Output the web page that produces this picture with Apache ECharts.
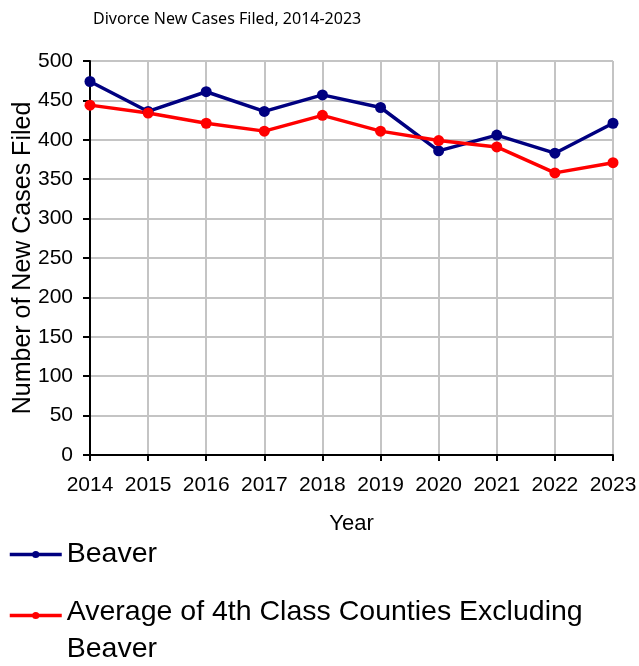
<!DOCTYPE html>
<html lang="en">
<head>
    <meta charset="UTF-8">
    <title>Divorce New Cases Filed</title>
    <script src="https://cdn.jsdelivr.net/npm/echarts@6/dist/echarts.min.js"></script>
    <style>
        html, body { margin: 0; padding: 0; background: #fff; }
    </style>
</head>
<body>
    <div id="main" style="width: 639px;height:666px;"></div>
    <script>
        // data
        var years = ['2014', '2015', '2016', '2017', '2018', '2019', '2020', '2021', '2022', '2023'];
        var beaver = [474, 436, 461, 436, 457, 441, 386, 406, 383, 421];
        var avgFourthClass = [444, 434, 421, 411, 431, 411, 399, 391, 358, 371];
        var seriesNames = ['Beaver', 'Average of 4th Class Counties Excluding Beaver'];

        var legendFont = {
            fontFamily: 'Liberation Sans',
            fontSize: 28.5,
            color: '#000'
        };

        var myChart = echarts.init(document.getElementById('main'));
        myChart.setOption({
            animation: false,
            title: {
                text: 'Divorce New Cases Filed, 2014-2023',
                left: 88,
                top: 6,
                textStyle: { fontFamily: 'Noto Sans', fontSize: 16, fontWeight: 'normal', color: '#000' }
            },
            // two legends so the wrapped second entry keeps its icon on the first line
            legend: [
                {
                    orient: 'vertical',
                    left: 8,
                    top: 540,
                    padding: 0,
                    itemWidth: 52,
                    itemHeight: 9,
                    lineStyle: { width: 3.5 },
                    textStyle: legendFont,
                    data: [seriesNames[0]]
                },
                {
                    orient: 'vertical',
                    left: 8,
                    top: 598,
                    padding: 0,
                    itemWidth: 52,
                    itemHeight: 9,
                    lineStyle: { width: 3.5 },
                    // first line gets a tall line box, second a tiny one,
                    // so the icon lines up with the first line like the original
                    formatter: function (name) {
                        var cut = name.lastIndexOf(' ');
                        return '{a|' + name.slice(0, cut) + '}\n{b|' + name.slice(cut + 1) + '}';
                    },
                    textStyle: Object.assign({}, legendFont, {
                        rich: {
                            a: { fontFamily: 'Liberation Sans', fontSize: 28.5, color: '#000', lineHeight: 68 },
                            b: { fontFamily: 'Liberation Sans', fontSize: 28.5, color: '#000', lineHeight: 6 }
                        }
                    }),
                    data: [seriesNames[1]]
                }
            ],
            grid: { left: 90, right: 26, top: 61, bottom: 211, outerBoundsMode: 'none' },
            xAxis: {
                type: 'category',
                data: years,
                boundaryGap: false,
                name: 'Year',
                nameLocation: 'middle',
                nameGap: 58,
                nameMoveOverlap: false,
                nameTextStyle: { fontFamily: 'Liberation Sans', fontSize: 22, color: '#000' },
                axisLine: { lineStyle: { color: '#000', width: 2 } },
                axisTick: { show: true, length: 6, lineStyle: { color: '#000', width: 2 } },
                axisLabel: { interval: 0, fontFamily: 'Liberation Sans', fontSize: 21, color: '#000', margin: 20 },
                splitLine: { show: true, lineStyle: { color: '#c4c4c4', width: 2 } }
            },
            yAxis: {
                type: 'value',
                min: 0,
                max: 500,
                interval: 50,
                name: 'Number of New Cases Filed',
                nameLocation: 'middle',
                nameGap: 54,
                nameMoveOverlap: false,
                nameTextStyle: { fontFamily: 'Liberation Sans', fontSize: 25, color: '#000' },
                axisLine: { show: true, lineStyle: { color: '#000', width: 2 } },
                axisTick: { show: true, length: 7, lineStyle: { color: '#000', width: 2 } },
                axisLabel: { fontFamily: 'Liberation Sans', fontSize: 21, color: '#000', margin: 17 },
                splitLine: { show: true, lineStyle: { color: '#c4c4c4', width: 2 } }
            },
            series: [
                {
                    name: seriesNames[0],
                    type: 'line',
                    data: beaver,
                    symbol: 'circle',
                    symbolSize: 11,
                    itemStyle: { color: '#000080' },
                    lineStyle: { color: '#000080', width: 3.5 }
                },
                {
                    name: seriesNames[1],
                    type: 'line',
                    data: avgFourthClass,
                    symbol: 'circle',
                    symbolSize: 11,
                    itemStyle: { color: '#ff0000' },
                    lineStyle: { color: '#ff0000', width: 3.5 }
                }
            ]
        });
    </script>
</body>
</html>
